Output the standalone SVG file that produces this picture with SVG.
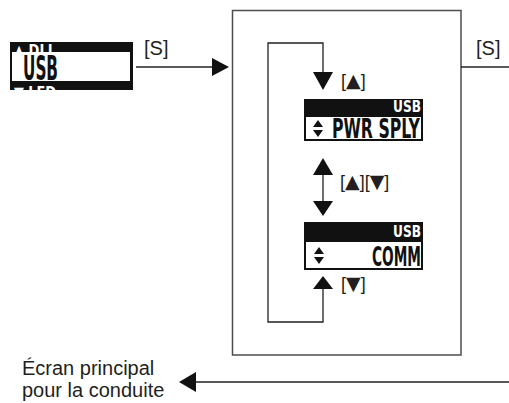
<svg xmlns="http://www.w3.org/2000/svg" width="509" height="403" viewBox="0 0 509 403">
<style>
.lbl{font-family:"Liberation Sans",Arial,sans-serif;fill:#231f20}
.big{font-size:20px}
.key{font-size:18px}
.tri{font-family:"DejaVu Sans",sans-serif;font-size:19px}
.lcd{font-family:"Liberation Sans Narrow","DejaVu Sans Condensed","Liberation Sans",sans-serif;font-weight:bold}
.ln{fill:none;stroke:#231f20;stroke-width:1.3}
.box{fill:none;stroke:#4d4d4d;stroke-width:1.5}
.ah{fill:#111}
</style>
<defs>
<clipPath id="clipL"><rect x="10" y="42" width="123" height="48"/></clipPath>
<g id="updown"><polygon points="0,7 5,0 10,7"/><polygon points="0,10 10,10 5,17"/></g>
</defs>
<g id="lcd-usb">
<rect x="10" y="42" width="123" height="48" fill="#111"/>
<rect x="12" y="52" width="118" height="29" fill="#fff"/>
<g clip-path="url(#clipL)" fill="#fff">
<text class="lcd" x="14" y="56" font-size="16" textLength="42" lengthAdjust="spacingAndGlyphs">▲ DLL</text>
<text class="lcd" x="14" y="98" font-size="16" textLength="42" lengthAdjust="spacingAndGlyphs">▼ LED</text>
</g>
<text class="lcd" x="23" y="80" font-size="33" fill="#111" textLength="35" lengthAdjust="spacingAndGlyphs">USB</text>
</g>
<g id="main-box">
<rect class="box" x="232.5" y="10.5" width="228.5" height="344.5"/>
</g>
<g id="lcd-pwr">
<rect x="304" y="99" width="119" height="42" fill="#111"/>
<rect x="306" y="117" width="115" height="22" fill="#fff"/>
<text class="lcd" x="421" y="111.5" font-size="15" font-weight="normal" fill="#fff" text-anchor="end" textLength="28" lengthAdjust="spacingAndGlyphs">USB</text>
<use href="#updown" x="313" y="120" fill="#111"/>
<text class="lcd" x="332" y="138" font-size="26" fill="#111" textLength="88" lengthAdjust="spacingAndGlyphs">PWR SPLY</text>
</g>
<g id="lcd-comm">
<rect x="304" y="222" width="119" height="48" fill="#111"/>
<rect x="306" y="242" width="115" height="26" fill="#fff"/>
<text class="lcd" x="421" y="237" font-size="15" font-weight="normal" fill="#fff" text-anchor="end" textLength="28" lengthAdjust="spacingAndGlyphs">USB</text>
<use href="#updown" x="314" y="247" fill="#111"/>
<text class="lcd" x="372" y="266" font-size="27" fill="#111" textLength="49" lengthAdjust="spacingAndGlyphs">COMM</text>
</g>
<g id="main-screen">
<text class="lbl big" x="22" y="375">Écran principal</text>
<text class="lbl big" x="22" y="397">pour la conduite</text>
</g>
<g id="connectors">
<line class="ln" x1="136" y1="67" x2="214" y2="67"/>
<polygon class="ah" points="212,58 229,67 212,76"/>
<text class="lbl big" x="144" y="55">[S]</text>
<line class="ln" x1="461" y1="67" x2="509" y2="67"/>
<text class="lbl big" x="476" y="55">[S]</text>
<path class="ln" d="M323,74 V43 H268 V322 H323 V287"/>
<polygon class="ah" points="313,72 333,72 323,90"/>
<text class="lbl key" x="341" y="87">[<tspan class="tri">▲</tspan>]</text>
<line class="ln" x1="323" y1="174" x2="323" y2="203"/>
<polygon class="ah" points="313,175 333,175 323,158"/>
<polygon class="ah" points="313,201 333,201 323,216"/>
<text class="lbl key" x="340" y="188">[<tspan class="tri">▲</tspan>][<tspan class="tri">▼</tspan>]</text>
<polygon class="ah" points="313,289 333,289 323,276"/>
<text class="lbl key" x="341" y="290">[<tspan class="tri">▼</tspan>]</text>
<line class="ln" x1="194" y1="382" x2="509" y2="382"/>
<polygon class="ah" points="196,372 179,382 196,392"/>
</g>
</svg>
